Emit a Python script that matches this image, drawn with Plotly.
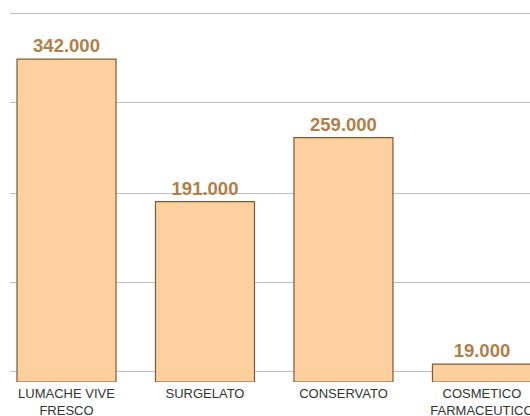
import plotly.graph_objects as go

categories = ["LUMACHE VIVE<br>FRESCO", "SURGELATO", "CONSERVATO", "COSMETICO<br>FARMACEUTICO"]
values = [342, 191, 259, 19]
value_labels = ["342.000", "191.000", "259.000", "19.000"]
grid_values = [10.6, 104.9, 200.2, 295.6, 390.9]

fig = go.Figure()
fig.add_trace(go.Bar(
    x=list(range(len(categories))),
    y=values,
    width=0.715,
    marker=dict(color="#FDD09E", line=dict(color="#7A5C3A", width=1.2)),
    text=value_labels,
    textposition="outside",
    textfont=dict(family="Liberation Sans, Arial", size=18.5, color="#B07F4A", weight="bold"),
    cliponaxis=False,
    hoverinfo="skip",
))

fig.update_layout(
    width=530, height=416,
    margin=dict(l=10, r=0, t=5, b=34),
    paper_bgcolor="white",
    plot_bgcolor="white",
    showlegend=False,
    xaxis=dict(
        range=[-0.408, 3.347],
        tickmode="array",
        tickvals=list(range(len(categories))),
        ticktext=categories,
        showgrid=False,
        showline=False,
        zeroline=False,
        ticks="",
        automargin=False,
        ticklabeloverflow="allow",
        ticklabelstandoff=2,
        tickfont=dict(family="Liberation Sans, Arial", size=13, color="#333333"),
    ),
    yaxis=dict(
        range=[0, 399.4],
        tickmode="array",
        tickvals=grid_values,
        showticklabels=False,
        showgrid=True,
        gridcolor="#BDBDBD",
        gridwidth=1,
        zeroline=False,
        showline=False,
        ticks="",
        automargin=False,
    ),
)

fig.write_html("out.html", config={"displayModeBar": False},
               post_script="document.body.style.margin='0';document.body.style.overflow='hidden';")
